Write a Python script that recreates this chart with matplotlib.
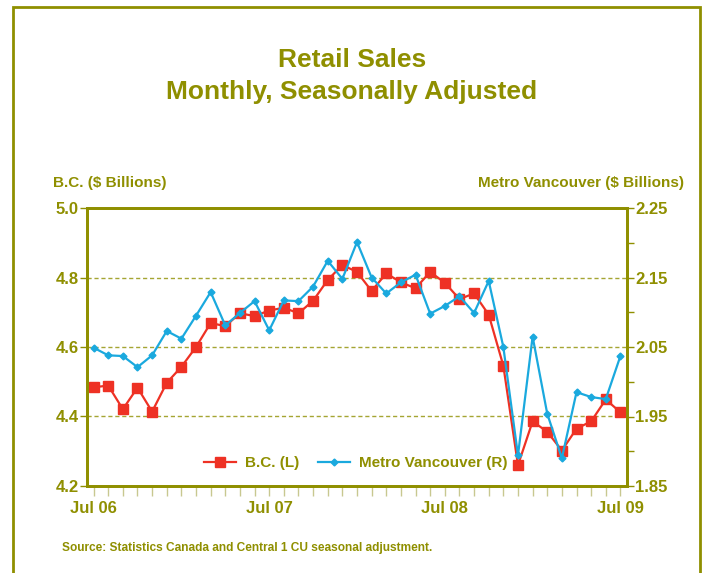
import matplotlib
matplotlib.use("Agg")
import matplotlib.pyplot as plt
from matplotlib.patches import Rectangle
from matplotlib.ticker import MultipleLocator, FixedLocator

# monthly, Jul 2006 .. Jul 2009
bc = [4.484, 4.489, 4.421, 4.483, 4.414, 4.497, 4.543, 4.600, 4.669, 4.660,
      4.697, 4.689, 4.705, 4.713, 4.697, 4.733, 4.793, 4.836, 4.816, 4.761,
      4.812, 4.786, 4.769, 4.816, 4.785, 4.738, 4.754, 4.693, 4.546, 4.260,
      4.386, 4.356, 4.302, 4.365, 4.386, 4.449, 4.412]
metro = [2.049, 2.038, 2.037, 2.021, 2.038, 2.073, 2.062, 2.095, 2.129, 2.081,
         2.099, 2.116, 2.074, 2.117, 2.116, 2.137, 2.174, 2.148, 2.201, 2.150,
         2.127, 2.143, 2.154, 2.098, 2.109, 2.123, 2.099, 2.145, 2.050, 1.894,
         2.065, 1.954, 1.890, 1.985, 1.978, 1.975, 2.037]
tick_labels = ["Jul 06", "Jul 07", "Jul 08", "Jul 09"]

OLIVE = "#8f8f00"
RED = "#ee3124"
BLUE = "#1aa9de"
FONT = ["Liberation Sans", "DejaVu Sans"]
plt.rcParams["font.family"] = FONT
plt.rcParams["font.weight"] = "bold"

fig = plt.figure(figsize=(7.04, 5.73), dpi=100)
ax = fig.add_axes([87 / 704, 1 - 486 / 573, 540 / 704, 278 / 573])
ax2 = ax.twinx()

x = list(range(len(bc)))
l1, = ax.plot(x, bc, color=RED, lw=1.6, marker="s", ms=6.5, label="B.C. (L)")
l2, = ax2.plot(x, metro, color=BLUE, lw=1.6, marker="D", ms=3.5, label="Metro Vancouver (R)")

ax.set_xlim(-0.45, 36.45)
ax.set_ylim(4.2, 5.0)
ax2.set_ylim(1.85, 2.25)
ax2.yaxis.set_major_locator(FixedLocator([1.85, 1.95, 2.05, 2.15, 2.25]))
ax2.yaxis.set_minor_locator(FixedLocator([1.90, 2.00, 2.10, 2.20]))
ax.set_xticks([0, 12, 24, 36])
ax.set_xticklabels(tick_labels)
ax.xaxis.set_minor_locator(MultipleLocator(1))
ax.set_yticks([4.2, 4.4, 4.6, 4.8, 5.0])
ax.set_yticklabels(["4.2", "4.4", "4.6", "4.8", "5.0"])
ax2.set_yticklabels(["1.85", "1.95", "2.05", "2.15", "2.25"])

for y in [4.4, 4.6, 4.8]:
    ax.axhline(y, color=OLIVE, lw=1.0, ls=(0, (3, 2)), alpha=0.8, zorder=0)

for a in (ax, ax2):
    for s in a.spines.values():
        s.set_color(OLIVE)
        s.set_linewidth(2)
    a.tick_params(colors=OLIVE, labelsize=12, width=1, length=5)
    a.tick_params(which="minor", colors=OLIVE, width=1, length=5)
ax.tick_params(axis="x", which="both", length=7, pad=4, color="#c8c890")
ax.tick_params(axis="y", pad=1)
ax2.tick_params(axis="y", pad=1)
for lab in ax.get_xticklabels() + ax.get_yticklabels() + ax2.get_yticklabels():
    lab.set_fontweight("bold")
    lab.set_color(OLIVE)

leg = ax2.legend(handles=[l1, l2], loc="center", bbox_to_anchor=(0.498, 0.083),
                 ncol=2, frameon=False, handlelength=2.1, handletextpad=0.6,
                 columnspacing=1.2,
                 prop={"family": FONT, "weight": "bold", "size": 11})
for t in leg.get_texts():
    t.set_color(OLIVE)

fig.text(0.5, 1 - 60 / 573, "Retail Sales", ha="center", va="center",
         fontsize=19, color=OLIVE, fontweight="bold")
fig.text(0.5, 1 - 92 / 573, "Monthly, Seasonally Adjusted", ha="center", va="center",
         fontsize=19, color=OLIVE, fontweight="bold")
fig.text(53 / 704, 1 - 183 / 573, "B.C. ($ Billions)", ha="left", va="center",
         fontsize=11, color=OLIVE, fontweight="bold")
fig.text(684 / 704, 1 - 183 / 573, "Metro Vancouver ($ Billions)", ha="right", va="center",
         fontsize=11, color=OLIVE, fontweight="bold")
fig.text(62 / 704, 1 - 548 / 573,
         "Source: Statistics Canada and Central 1 CU seasonal adjustment.",
         ha="left", va="center", fontsize=8.6, color=OLIVE, fontweight="bold")

fig.patches.append(Rectangle((13 / 704, -0.05), 687 / 704, 1.05 - 7 / 573,
                             transform=fig.transFigure, fill=False,
                             edgecolor=OLIVE, lw=2))

fig.savefig("out.png", dpi=100)
